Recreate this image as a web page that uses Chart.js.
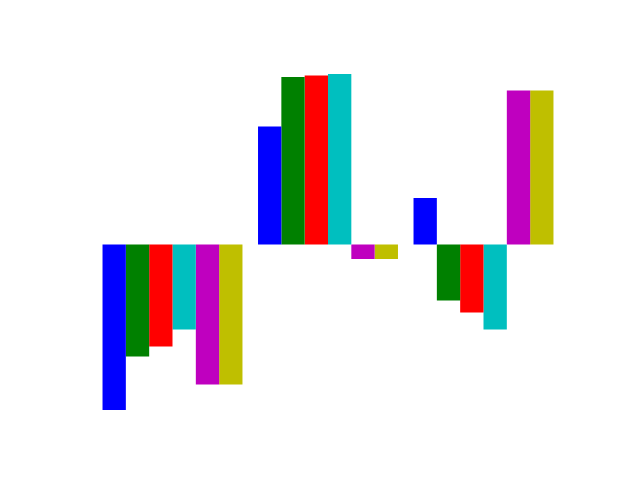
<!DOCTYPE html>
<html>
<head>
<meta charset="utf-8">
<script src="https://cdn.jsdelivr.net/npm/chart.js@4/dist/chart.umd.min.js"></script>
<style>
  html, body { margin: 0; padding: 0; background: #ffffff; }
  canvas { display: block; }
</style>
</head>
<body>
<canvas id="c" width="640" height="480"></canvas>
<script>
const categories = ["A", "B", "C"];
const seriesNames = ["s1", "s2", "s3", "s4", "s5", "s6"];
const s1 = [-1.655, 1.18, 0.465];
const s2 = [-1.12, 1.675, -0.56];
const s3 = [-1.02, 1.69, -0.68];
const s4 = [-0.85, 1.705, -0.85];
const s5 = [-1.40, -0.145, 1.54];
const s6 = [-1.40, -0.145, 1.54];
const colors = ["#0000ff", "#008000", "#ff0000", "#00bfbf", "#bf00bf", "#bfbf00"];

const series = [s1, s2, s3, s4, s5, s6];
const datasets = series.map((d, i) => ({
  label: seriesNames[i],
  data: d,
  backgroundColor: colors[i],
  borderWidth: 0,
  barPercentage: 1.0,
  categoryPercentage: 0.9
}));

new Chart(document.getElementById("c"), {
  type: "bar",
  data: { labels: categories, datasets: datasets },
  options: {
    responsive: false,
    animation: false,
    devicePixelRatio: 1,
    layout: { padding: { left: 94.75, right: 78.75, top: 58, bottom: 53 } },
    plugins: { legend: { display: false }, tooltip: { enabled: false } },
    scales: {
      x: { display: false, offset: true },
      y: { display: false, min: -1.825, max: 1.865 }
    }
  }
});
</script>
</body>
</html>
